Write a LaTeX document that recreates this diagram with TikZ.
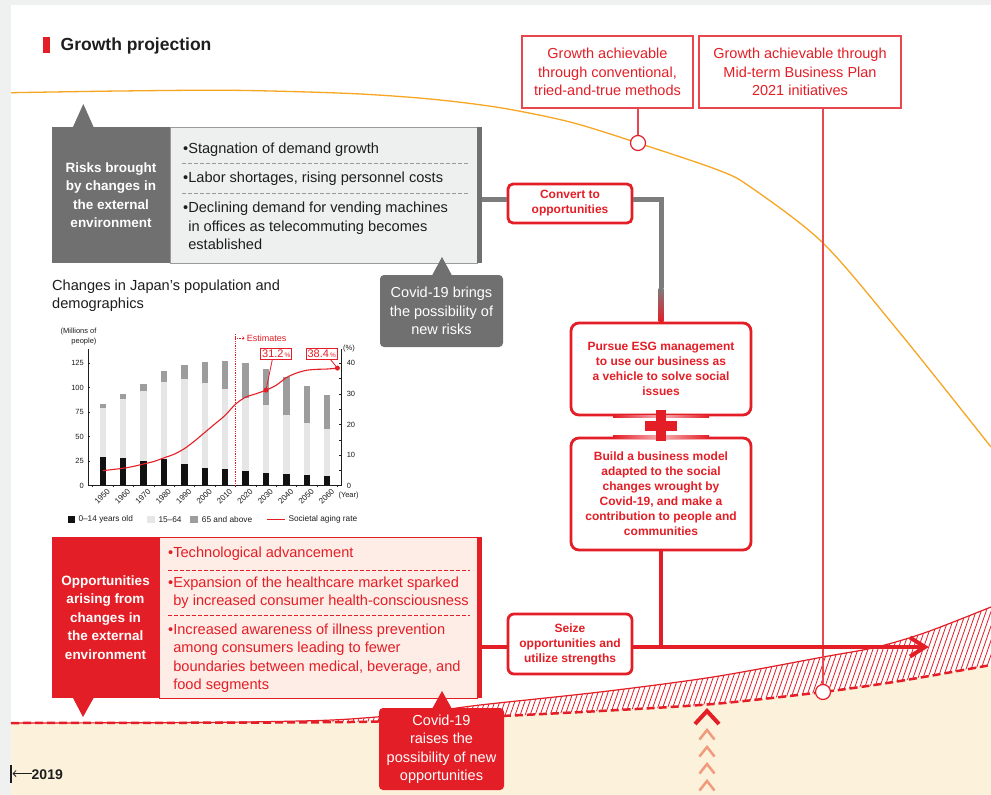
\documentclass[tikz,border=0pt]{standalone}
\usepackage{fontspec}
\setmainfont{Liberation Sans}
\usetikzlibrary{arrows.meta}

\begin{document}
\begin{tikzpicture}[
    x=1pt, y=-1pt,
    goalbox/.style={
        draw=goalred, line width=1.2pt, fill=white, text=krred, align=center,
        minimum height=72pt, inner sep=0pt, font=\fontsize{14.5}{18.5}\selectfont
    },
    stepbox/.style={
        draw=krred, line width=2.8pt, fill=white, rounded corners=6pt,
        text=krred, align=center, inner sep=0pt,
        font=\bfseries\fontsize{12}{15}\selectfont
    },
    headbox/.style={
        text=white, align=center, inner sep=0pt,
        font=\bfseries\fontsize{13.5}{18.5}\selectfont
    },
    notebox/.style={
        rounded corners=4pt, text=white, align=center, inner sep=0pt,
        font=\fontsize{14.5}{18.5}\selectfont
    },
    listbox/.style={inner sep=0pt, line width=0.8pt},
    listitem/.style={anchor=west, align=left, inner sep=0pt, font=\fontsize{14.6}{18.5}\selectfont},
    dashsep/.style={dash pattern=on 3.5pt off 2.5pt, line width=0.7pt},
    ringmark/.style={circle, draw=krred, line width=1.2pt, fill=white, minimum size=15pt, inner sep=0pt},
    grayline/.style={draw=linegray, line width=5pt},
    redline/.style={draw=krred, line width=4pt},
    ticklabel/.style={inner sep=0pt, text=ink, font=\fontsize{7.5}{10.5}\selectfont},
    legendtext/.style={anchor=west, inner sep=0pt, text=ink, font=\fontsize{8.3}{10}\selectfont},
    callbox/.style={
        draw=krred, line width=0.8pt, fill=white, text=krred, inner sep=1pt,
        minimum width=31pt, minimum height=11pt, font=\fontsize{11}{12}\selectfont
    },
    dotmark/.style={circle, fill=krred, inner sep=0pt, minimum size=5pt}
]

% Palette
\definecolor{krred}{HTML}{E41E26}
\definecolor{goalred}{HTML}{E8474F}
\definecolor{riskgray}{HTML}{707070}
\definecolor{linegray}{HTML}{7C7C7C}
\definecolor{listgray}{HTML}{EEF0EF}
\definecolor{listedge}{HTML}{9A9A9A}
\definecolor{oppfill}{HTML}{FDEDE6}
\definecolor{cream}{HTML}{FCF1DA}
\definecolor{trend}{HTML}{F6A623}
\definecolor{pagegray}{HTML}{EFF1F0}
\definecolor{salmon}{HTML}{F19A7C}
\definecolor{ink}{HTML}{1E1E1E}
\definecolor{kidbar}{HTML}{111111}
\definecolor{workbar}{HTML}{E5E6E5}
\definecolor{oldbar}{HTML}{9D9D9D}

% Page
\useasboundingbox (0,0) rectangle (991,795);
\fill[pagegray] (0,0) rectangle (991,795);
\fill[white] (11,5) rectangle (991,795);

% Base level (cream) and hatched growth band
\fill[cream] (11,795) -- plot[smooth] coordinates {(11,723) (350,722) (480,717) (600,711) (713,704) (823,692) (900,681) (991,665)} -- (991,795) -- cycle;
\begin{scope}
    \clip plot[smooth] coordinates {(11,723) (200,722.5) (300,721) (350,719) (420,713) (480,705) (600,692) (713,677) (823,657) (877,647) (927,632) (991,607)}
       -- plot[smooth] coordinates {(991,665) (900,681) (823,692) (713,704) (600,711) (480,717) (350,722) (11,723)} -- cycle;
    \foreach \h in {300,305,...,995}
        \draw[krred, line width=0.8pt] (\h,730) -- (\h+45,600);
\end{scope}
\draw[krred, line width=1.2pt] plot[smooth] coordinates {(11,723) (200,722.5) (300,721) (350,719) (420,713) (480,705) (600,692) (713,677) (823,657) (877,647) (927,632) (991,607)};
\draw[krred, line width=2.5pt, dash pattern=on 8pt off 4pt] plot[smooth] coordinates {(11,723) (350,722) (480,717) (600,711) (713,704) (823,692) (900,681) (991,665)};

% Conventional growth curve
\draw[trend, line width=1.3pt] plot[smooth] coordinates {(11,92.7) (120,91) (233,90.3) (350,93.5) (430,99) (500,107.7) (570,122) (638,143) (718,170) (750,186.7) (823,243) (900,333) (991,447)};

% Title
\fill[krred] (43.3,37.3) rectangle (49.5,52.7);
\node[anchor=west, inner sep=0pt, text=ink, font=\bfseries\fontsize{17.5}{20}\selectfont] (title) at (60.5,45.5) {Growth projection};

% Growth targets
\node[goalbox, minimum width=171pt] (goalA) at (607.5,72) {Growth achievable\\through conventional,\\tried-and-true methods};
\node[goalbox, minimum width=202pt] (goalB) at (800,72) {Growth achievable through\\Mid-term Business Plan\\2021 initiatives};
\node[ringmark] (markA) at (638,143) {};
\node[ringmark] (markB) at (823,692) {};
\draw[goalred, line width=1.2pt] (goalA.south -| markA) -- (markA.north);
\draw[goalred, line width=1.2pt] (goalB.south -| markB) -- (markB.north);

% Strategy boxes
\node[stepbox, minimum width=124pt, minimum height=39pt, rounded corners=5pt] (convert) at (570,203.5) {Convert to\\opportunities};
\node[stepbox, minimum width=180pt, minimum height=92pt, rounded corners=8pt] (esg) at (661,369) {Pursue ESG management\\to use our business as\\a vehicle to solve social\\issues};
\node[stepbox, minimum width=180pt, minimum height=112pt, rounded corners=8pt] (build) at (661,494) {Build a business model\\adapted to the social\\changes wrought by\\Covid-19, and make a\\contribution to people and\\communities};
\node[stepbox, minimum width=124pt, minimum height=60pt] (seize) at (570,644) {Seize\\opportunities and\\utilize strengths};
% soft highlight on the borders around the plus
\shade[left color=krred, right color=krred, middle color=krred!35!white] ([xshift=-48pt,yshift=1.4pt]esg.south) rectangle ([xshift=48pt,yshift=-1.4pt]esg.south);
\shade[left color=krred, right color=krred, middle color=krred!35!white] ([xshift=-48pt,yshift=1.4pt]build.north) rectangle ([xshift=48pt,yshift=-1.4pt]build.north);
\fill[krred] (645,421) rectangle (677,431);
\fill[krred] (656,410) rectangle (666,441);

% Risk path (gray fading to red)
\coordinate (riskout) at (482,199);
\coordinate (fadetop) at (661,288);
\draw[grayline] (riskout) -- (riskout -| convert.west);
\draw[grayline] (riskout -| convert.east) -| (fadetop);
\shade[top color=linegray, bottom color=krred] ([xshift=-2.5pt]fadetop) rectangle ([xshift=2.5pt]esg.north);

% Opportunity path
\coordinate (oppout) at (482,647);
\coordinate (goal) at (925,647);
\draw[redline] (oppout) -- (oppout -| seize.west);
\draw[redline] (oppout -| seize.east) -- (goal);
\draw[redline, miter limit=4] ([xshift=-15pt,yshift=9.5pt]goal) -- (goal) -- ([xshift=-15pt,yshift=-9.5pt]goal);
\draw[redline] (build.south) -- (build.south |- goal);

% Risks
\fill[riskgray] (73,127) -- (83.3,104) -- (93.6,127) -- cycle;
\node[headbox, fill=riskgray, minimum width=118pt, minimum height=136pt] (riskhead) at (111,195) {Risks brought\\by changes in\\the external\\environment};
\node[listbox, draw=listedge, fill=listgray, minimum width=307pt, minimum height=136pt] (risklist) at (323.5,195) {};
\fill[riskgray] (477,127) rectangle (482,263);
\node[listitem, text=ink] (risk1) at (183,150) {\textbullet Stagnation of demand growth};
\draw[dashsep, listedge] (182,163) -- (470,163);
\node[listitem, text=ink] (risk2) at (183,179) {\textbullet Labor shortages, rising personnel costs};
\draw[dashsep, listedge] (182,193) -- (470,193);
\node[listitem, text=ink] (risk3) at (183,226) {\textbullet Declining demand for vending machines\\\phantom{\textbullet}in offices as telecommuting becomes\\\phantom{\textbullet}established};

\fill[riskgray] (432,275.5) -- (442,257) -- (452,275.5) -- cycle;
\node[notebox, fill=riskgray, minimum width=123pt, minimum height=72pt] (covidrisk) at (441.5,311) {Covid-19 brings\\the possibility of\\new risks};

% Opportunities
\node[headbox, fill=krred, minimum width=107pt, minimum height=161pt] (opphead) at (105.5,617.5) {Opportunities\\arising from\\changes in\\the external\\environment};
\node[listbox, draw=krred, fill=oppfill, minimum width=318pt, minimum height=161pt] (opplist) at (318,617.5) {};
\fill[krred] (477,537) rectangle (482,698);
\fill[krred] (73,698) -- (83,717) -- (93.6,698) -- cycle;
\node[listitem, text=krred] (opp1) at (168,554) {\textbullet Technological advancement};
\draw[dashsep, krred] (168,570) -- (470,570);
\node[listitem, text=krred] (opp2) at (168,592.5) {\textbullet Expansion of the healthcare market sparked\\\phantom{\textbullet}by increased consumer health-consciousness};
\draw[dashsep, krred] (168,615) -- (470,615);
\node[listitem, text=krred] (opp3) at (168,658) {\textbullet Increased awareness of illness prevention\\\phantom{\textbullet}among consumers leading to fewer\\\phantom{\textbullet}boundaries between medical, beverage, and\\\phantom{\textbullet}food segments};

\fill[krred] (432,709) -- (442,691) -- (452,709) -- cycle;
\node[notebox, fill=krred, minimum width=125pt, minimum height=82pt] (covidopp) at (441.5,749) {Covid-19\\raises the\\possibility of new\\opportunities};

% Upward push
\draw[krred, line width=4pt] (695,724) -- (707,711) -- (719,724);
\foreach \c in {730,747,764,781}
    \draw[salmon, line width=2.5pt] (699.5,\c+9.5) -- (707,\c) -- (714.5,\c+9.5);

% Start year
\coordinate (startbar) at (12.5,773.5);
\draw[ink, line width=2.2pt] (11.3,765) -- (11.3,783);
\node[anchor=west, inner sep=0pt, text=ink, font=\bfseries\fontsize{14}{16}\selectfont] (startyear) at (31.5,775) {2019};
\draw[ink, line width=0.8pt, -{Straight Barb[length=3pt,width=6pt]}] (startyear.west |- startbar) -- (startbar);

% Population chart
\node[listitem, text=ink] (charttitle) at (52,295.5) {Changes in Japan’s population and\\demographics};
\begin{scope}[shift={(102.8,485.7)}, x=2.04pt, y=0.98pt]
    % stacked bars: 0-14, 15-64, 65+
    \foreach \yr/\kid/\work/\old in {1950/29.4/49.7/4.1, 1960/28.1/60.0/5.4, 1970/25.2/71.6/7.3,
        1980/27.5/78.8/10.6, 1990/22.5/86.0/14.9, 2000/18.5/86.2/22.0, 2010/16.8/81.7/29.2,
        2020/15.1/74.1/36.2, 2030/13.2/68.8/37.2, 2040/11.9/59.8/39.2, 2050/10.8/52.8/38.4,
        2060/9.5/47.9/35.4} {
        \pgfmathsetmacro\bx{\yr-1950}
        \pgfmathsetmacro\barmid{\kid+\work}
        \pgfmathsetmacro\bartop{\kid+\work+\old}
        \fill[kidbar] (\bx-1.6,0) rectangle (\bx+1.6,\kid);
        \fill[workbar] (\bx-1.6,\kid) rectangle (\bx+1.6,\barmid);
        \fill[oldbar] (\bx-1.6,\barmid) rectangle (\bx+1.6,\bartop);
        \node[ticklabel, font=\fontsize{8}{10}\selectfont, rotate=45, anchor=north east] (yr\yr) at (\bx+1.8,-2.5) {\yr};
    }
    \draw[ink, line width=0.6pt] (-7.25,0) -- (117.1,0);
    \draw[ink, line width=0.6pt] (-7.25,0) -- (-7.25,139.6);
    \foreach \v in {0,25,...,125} {
        \draw[ink, line width=0.5pt] (-7.25,\v) -- (-6.1,\v);
        \node[ticklabel, anchor=east] (lv\v) at (-9.2,\v) {\v};
    }
    \foreach \m in {-5,5,...,115}
        \draw[ink, line width=0.5pt] (\m,0) -- (\m,-1.8);
    % aging rate on the right axis (%)
    \begin{scope}[y=3.0625pt]
        \draw[ink, line width=0.6pt] (117.1,0) -- (117.1,44.6);
        \foreach \p in {0,5,...,40}
            \draw[ink, line width=0.5pt] (117.1,\p) -- (116,\p);
        \foreach \p in {0,10,...,40}
            \node[ticklabel, anchor=west] (rv\p) at (119.5,\p) {\p};
        \draw[krred, line width=0.8pt, densely dotted] (65,0) -- (65,49.8);
        \draw[krred, line width=0.6pt, densely dotted, -{Straight Barb[length=1.5pt,width=3pt]}] (65,48.2) -- (69.5,48.2);
        \node[anchor=west, inner sep=0pt, text=krred, font=\fontsize{9}{10}\selectfont] (estimates) at (70.5,48.2) {Estimates};
        \draw[krred, line width=1.1pt] plot[smooth] coordinates {(0,4.9) (5,5.3) (10,5.7) (15,6.3) (20,7.1) (25,7.9) (30,9.1) (35,10.3) (40,12.1) (45,14.6) (50,17.4) (55,20.2) (60,23.0) (65,26.6) (70,28.9) (75,30.0) (80,31.2) (85,32.8) (90,35.3) (95,36.8) (100,37.7) (105,38.0) (110,38.1) (115,38.4)};
        \node[dotmark] (dot30) at (80,31.2) {};
        \node[dotmark] (dot65) at (115,38.4) {};
    \end{scope}
\end{scope}
\node[callbox] (call30) at (276.3,353.8) {31.2{\fontsize{6.5}{7}\selectfont\,\%}};
\node[callbox] (call65) at (321.7,353.8) {38.4{\fontsize{6.5}{7}\selectfont\,\%}};
\draw[krred, line width=0.8pt] ([xshift=-4pt]call30.south) -- (dot30.center);
\draw[krred, line width=0.8pt] ([xshift=9pt]call65.south) -- (dot65.center);
\node[ticklabel, anchor=east, align=right] (unitleft) at (96.7,336.5) {(Millions of\\people)};
\node[ticklabel, anchor=west] (unitright) at (343,348.3) {(\%)};
\node[ticklabel, anchor=west] (unityear) at (338.3,495.7) {(Year)};

% Chart legend
\fill[kidbar] (68.3,515.7) rectangle (75.3,523);
\node[legendtext] (legkid) at (78.3,519.3) {0–14 years old};
\fill[workbar] (147.3,515.7) rectangle (155,523);
\node[legendtext] (legwork) at (158.3,519.3) {15–64};
\fill[oldbar] (190,515.7) rectangle (198,523);
\node[legendtext] (legold) at (201.7,519.3) {65 and above};
\draw[krred, line width=1.3pt] (266.7,519.3) -- (285,519.3);
\node[legendtext] (legrate) at (288.3,519.3) {Societal aging rate};

\end{tikzpicture}
\end{document}
